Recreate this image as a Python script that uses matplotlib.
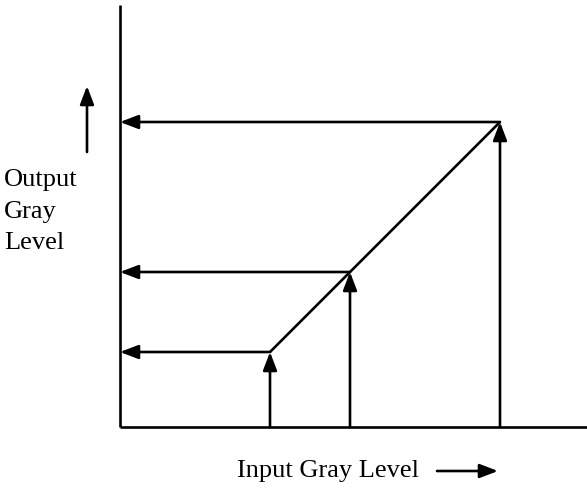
import matplotlib
matplotlib.use("Agg")
import matplotlib.pyplot as plt
from matplotlib.patches import FancyArrowPatch

# Piecewise-linear gray-level mapping: three input levels and their outputs
input_levels = [150, 230, 380]
output_levels = [75, 155, 305]
x_axis_end = 467
y_axis_end = 422

fig = plt.figure(figsize=(5.87, 4.91), dpi=100)
ax = fig.add_axes([0, 0, 1, 1])
ax.set_xlim(-120, 467)
ax.set_ylim(-64, 427)
ax.axis("off")

lw = 1.9
ink = "black"

# axes
ax.plot([0, 0], [0, y_axis_end], color=ink, lw=lw, solid_capstyle="butt")
ax.plot([0, x_axis_end], [0, 0], color=ink, lw=lw, solid_capstyle="butt")

# transfer line between the first and last input levels
ax.plot([input_levels[0], input_levels[-1]], [output_levels[0], output_levels[-1]],
        color=ink, lw=lw, solid_capstyle="butt")


def arrow(p0, p1):
    a = FancyArrowPatch(p0, p1, arrowstyle="-|>,head_length=11,head_width=4.2",
                        mutation_scale=1, color=ink, lw=lw, shrinkA=0, shrinkB=0)
    ax.add_patch(a)


for xi, yo in zip(input_levels, output_levels):
    arrow((xi, 0), (xi, yo))
    arrow((xi, yo), (0, yo))

# direction arrows next to the axis labels
arrow((-33, 275), (-33, 341))
arrow((317, -44), (378, -44))

font = dict(family="Liberation Serif", fontsize=19, color=ink)
ax.text(-116, 247, "Output", ha="left", va="center", **font)
ax.text(-116, 215, "Gray", ha="left", va="center", **font)
ax.text(-116, 184, "Level", ha="left", va="center", **font)
ax.text(117, -44, "Input Gray Level", ha="left", va="center", **font)

fig.savefig("out.png", dpi=100)
